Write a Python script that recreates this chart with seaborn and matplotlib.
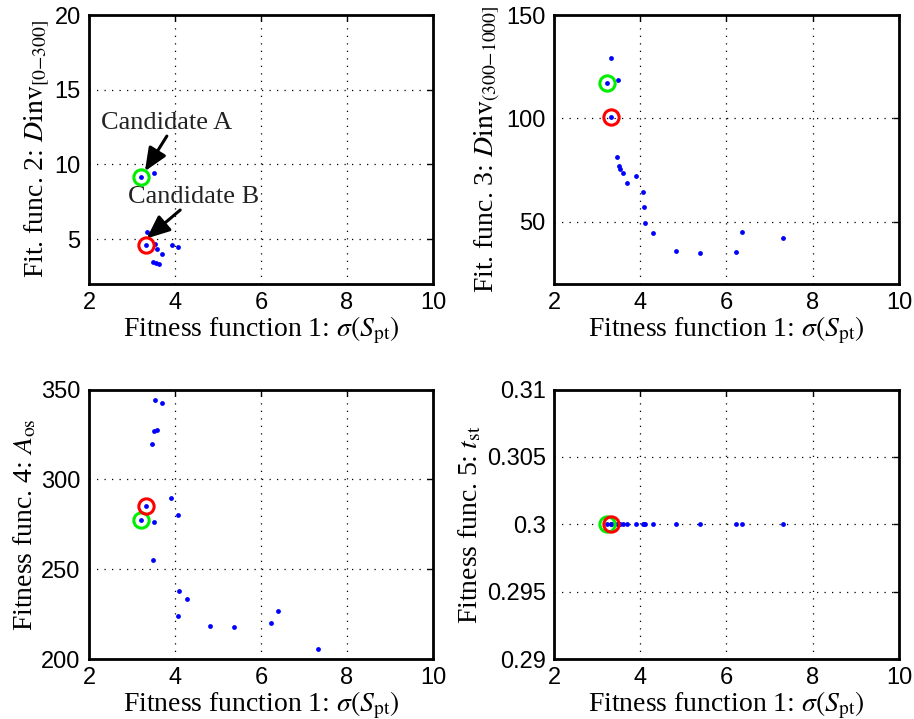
import numpy as np
import pandas as pd
import seaborn as sns
import matplotlib.pyplot as plt

# Pareto front values
# panel 1: fitness 1 vs Dinv[0-300]
f1_p1 = [3.50, 3.35, 3.53, 3.57, 3.70, 3.92, 4.08, 3.48, 3.56, 3.62]
dinv_low = [9.44, 5.51, 4.69, 4.33, 4.00, 4.60, 4.49, 3.49, 3.38, 3.31]

# panel 2: fitness 1 vs Dinv[300-1000]  (also used for panel 4, t_st)
f1_p2 = [3.33, 3.49, 3.47, 3.51, 3.54, 3.59, 3.70, 3.91, 4.07, 4.09, 4.10,
         4.30, 4.84, 5.39, 6.23, 6.37, 7.32]
dinv_high = [129.4, 118.8, 81.5, 76.8, 75.6, 73.8, 69.0, 72.2, 64.6, 57.1,
             49.6, 44.8, 35.8, 35.2, 35.3, 45.2, 42.1]

# panel 3: fitness 1 vs A_os
f1_p3 = [3.54, 3.69, 3.52, 3.58, 3.46, 3.91, 4.06, 3.50, 3.49, 4.09, 4.28,
         4.07, 4.82, 5.38, 6.23, 6.39, 7.32]
a_os = [344.0, 342.7, 327.1, 327.3, 319.8, 289.9, 280.4, 276.3, 254.9, 237.8,
        233.3, 224.2, 218.6, 217.8, 220.3, 227.0, 205.4]

# panel 4: t_st is constant
t_st = [0.3] * len(f1_p2)

# highlighted candidates: (f1, dinv_low, dinv_high, a_os, t_st)
cand_a = [3.22, 9.18, 117.3, 277.2, 0.3]
cand_b = [3.32, 4.62, 100.7, 285.4, 0.3]

sns.set_style("white")
plt.rcParams["font.family"] = ["Liberation Sans", "DejaVu Sans"]
plt.rcParams["mathtext.fontset"] = "stix"
for key in ["text.color", "axes.labelcolor", "xtick.color", "ytick.color"]:
    plt.rcParams[key] = "black"

serif = ["Liberation Serif", "DejaVu Serif"]
xlab = r"Fitness function 1: $\sigma(S_{\rm pt})$"

fig = plt.figure(figsize=(9.14, 7.19), dpi=100)
pos = [
    [0.0974, 0.605, 0.3764, 0.3741],
    [0.6061, 0.605, 0.3775, 0.3741],
    [0.0974, 0.0834, 0.3764, 0.3748],
    [0.6061, 0.0834, 0.3775, 0.3748],
]

panels = [
    (f1_p1, dinv_low, 1, (2, 20), [5, 10, 15, 20], r"Fit. func. 2: $D\rm inv_{[0{-}300]}$"),
    (f1_p2, dinv_high, 2, (20, 150), [50, 100, 150], r"Fit. func. 3: $D\rm inv_{(300{-}1000]}$"),
    (f1_p3, a_os, 3, (200, 350), [200, 250, 300, 350], r"Fitness func. 4: $A_{\rm os}$"),
    (f1_p2, t_st, 4, (0.29, 0.31), [0.29, 0.295, 0.3, 0.305, 0.31], r"Fitness func. 5: $t_{\rm st}$"),
]

axes = []
for p, (xs, ys, k, ylim, yticks, ylab) in zip(pos, panels):
    ax = fig.add_axes(p)
    df = pd.DataFrame({"f1": xs, "obj": ys})
    sns.scatterplot(data=df, x="f1", y="obj", ax=ax, color="#0000ff",
                    s=12, linewidth=0, zorder=3)
    # candidates: blue dot with coloured ring
    for cand, col in [(cand_a, "#00ee00"), (cand_b, "#ff0000")]:
        sns.scatterplot(x=[cand[0]], y=[cand[k]], ax=ax, color="#0000ff",
                        s=12, linewidth=0, zorder=4)
        ax.plot(cand[0], cand[k], "o", ms=11, mfc="none", mec=col, mew=2.2, zorder=5)
    ax.set_xlim(2, 10)
    ax.set_ylim(*ylim)
    ax.set_xticks([2, 4, 6, 8, 10])
    ax.set_yticks(yticks)
    ax.set_yticklabels([f"{v:g}" for v in yticks])
    ax.grid(True, color="black", linestyle=(0, (1, 5)), linewidth=0.9)
    ax.tick_params(direction="in", top=True, right=True, length=4, width=1,
                   labelsize=17, pad=6)
    for s in ax.spines.values():
        s.set_linewidth(2)
        s.set_color("black")
    ax.set_xlabel(xlab, fontsize=20, family=serif, labelpad=0)
    ax.set_ylabel(ylab, fontsize=20, family=serif, labelpad=2)
    axes.append(ax)

ax1 = axes[0]
arrow = dict(arrowstyle="-|>,head_length=0.7,head_width=0.3", color="black",
             lw=2.2, shrinkA=0, shrinkB=0, mutation_scale=20)
ax1.text(3.81, 12.8, "Candidate A", fontsize=19, family=serif, color="#222222",
         ha="center", va="center")
ax1.annotate("", xy=(3.30, 9.55), xytext=(3.81, 11.9), arrowprops=arrow)
ax1.text(4.42, 7.85, "Candidate B", fontsize=19, family=serif, color="#222222",
         ha="center", va="center")
ax1.annotate("", xy=(3.34, 5.05), xytext=(4.12, 6.95), arrowprops=arrow)

plt.savefig("out.png", dpi=100)
